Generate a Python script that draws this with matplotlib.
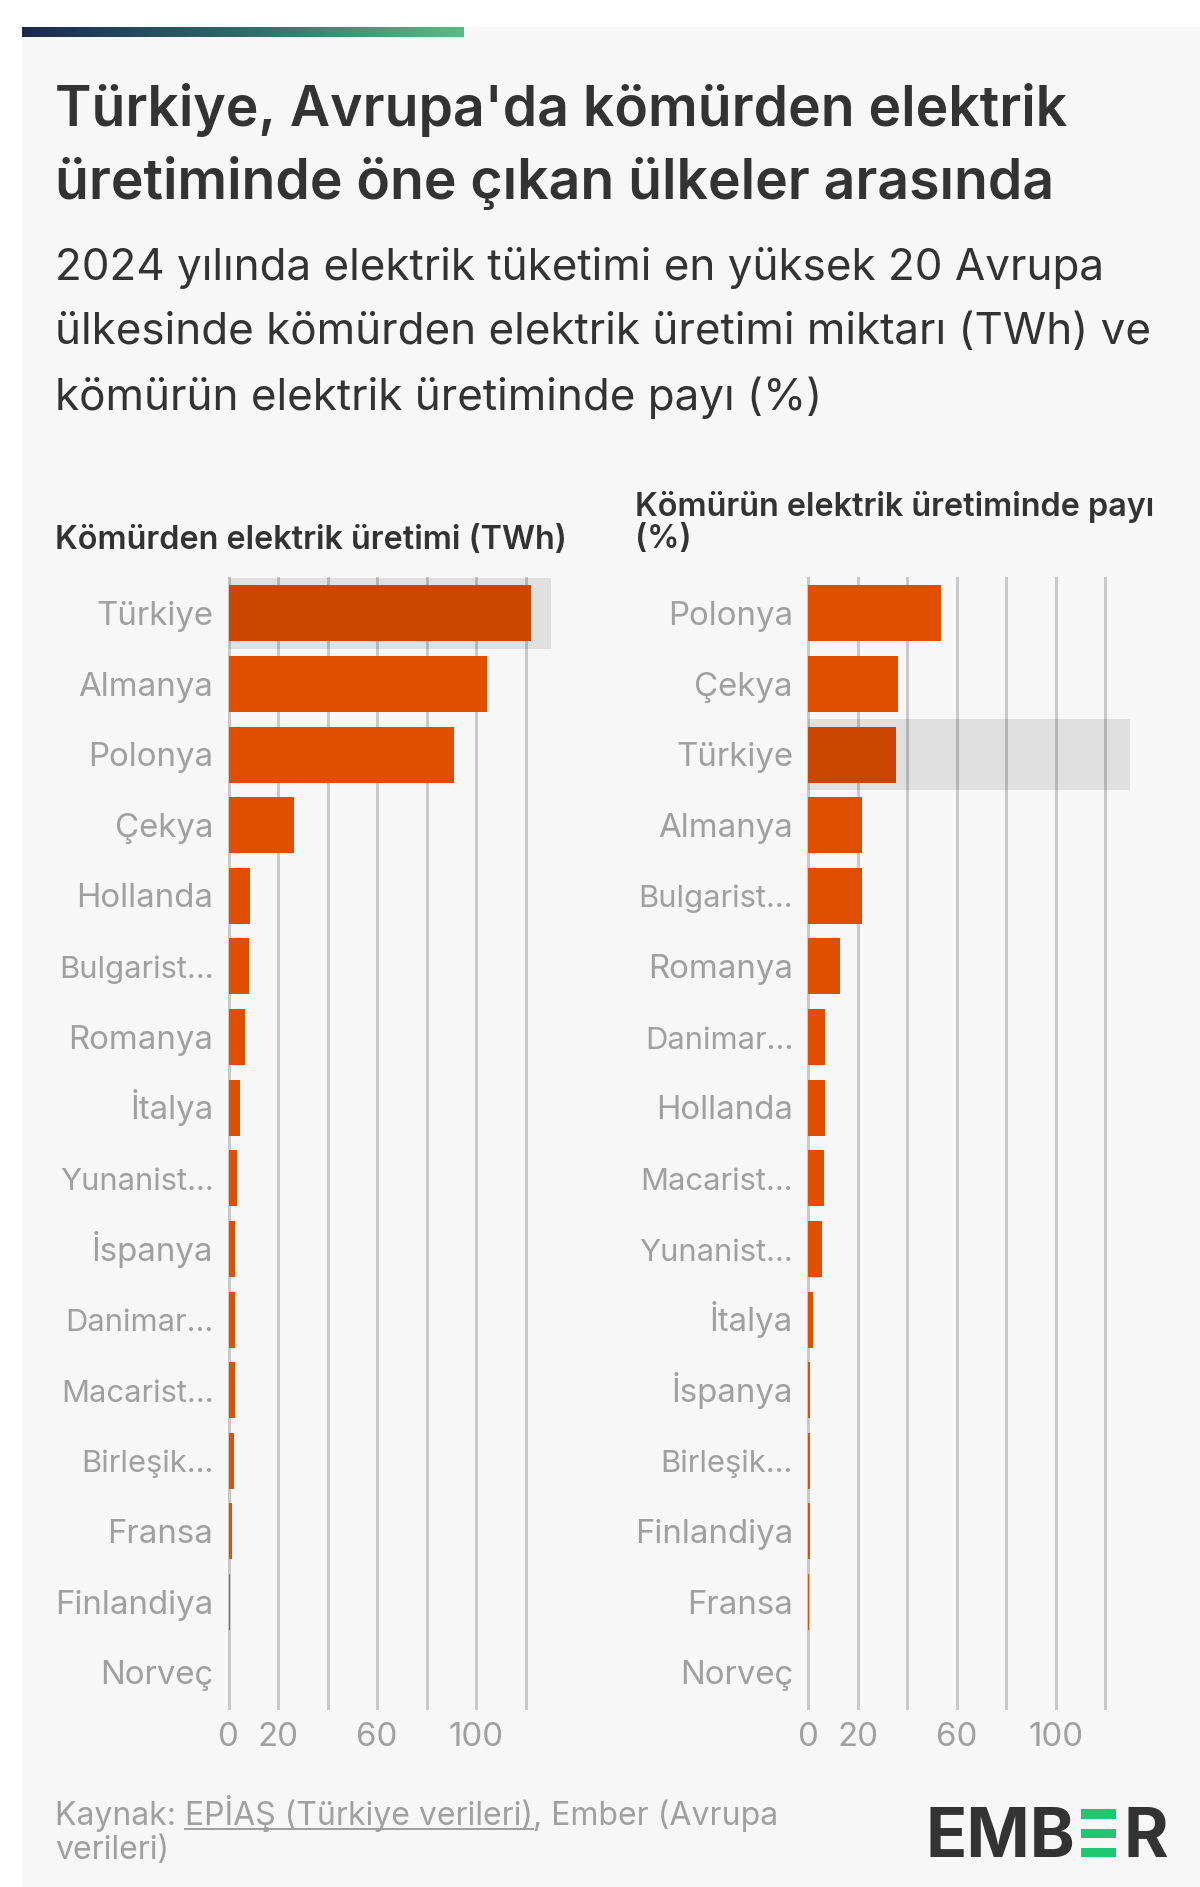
import matplotlib
matplotlib.use("Agg")
import matplotlib.pyplot as plt
import numpy as np
from matplotlib.colors import LinearSegmentedColormap
from matplotlib.patches import Rectangle
from matplotlib.lines import Line2D
from matplotlib.transforms import ScaledTranslation

W, H = 1200, 1887
FONT = "Inter"
plt.rcParams['font.family'] = [FONT, 'DejaVu Sans']

title_lines = ["Türkiye, Avrupa'da kömürden elektrik", "üretiminde öne çıkan ülkeler arasında"]
subtitle_lines = ["2024 yılında elektrik tüketimi en yüksek 20 Avrupa",
                  "ülkesinde kömürden elektrik üretimi miktarı (TWh) ve",
                  "kömürün elektrik üretiminde payı (%)"]
left_title = "Kömürden elektrik üretimi (TWh)"
right_title = ["Kömürün elektrik üretiminde payı", "(%)"]

left_countries = ["Türkiye", "Almanya", "Polonya", "Çekya", "Hollanda", "Bulgarist…", "Romanya", "İtalya",
                  "Yunanist…", "İspanya", "Danimar…", "Macarist…", "Birleşik…", "Fransa", "Finlandiya", "Norveç"]
left_values = [122, 104.5, 91, 26.5, 8.5, 8.2, 6.8, 4.6, 3.3, 2.8, 2.6, 2.5, 2.3, 1.6, 0.7, 0]

right_countries = ["Polonya", "Çekya", "Türkiye", "Almanya", "Bulgarist…", "Romanya", "Danimar…", "Hollanda",
                   "Macarist…", "Yunanist…", "İtalya", "İspanya", "Birleşik…", "Finlandiya", "Fransa", "Norveç"]
right_values = [53.5, 36.5, 35.6, 21.8, 21.6, 13, 7.0, 6.9, 6.3, 5.6, 1.9, 0.9, 0.8, 0.7, 0.4, 0]

tick_values = [0, 20, 40, 60, 80, 100, 120]
tick_labels = ["0", "20", "", "60", "", "100", ""]
highlight = "Türkiye"

BG, ORANGE, GRID, GREY, DARK = "#f7f7f7", "#e04e00", "#c9c9c9", "#a0a0a0", "#333333"

fig = plt.figure(figsize=(W/100, H/100), dpi=100, facecolor="white")

def fx(x): return x / W
def fy(y): return 1 - y / H
def px(p): return p * 72 / 100

fig.add_artist(Rectangle((fx(22), 0), 1 - fx(22), fy(27), transform=fig.transFigure, fc=BG, ec="none", zorder=-5))

cmap = LinearSegmentedColormap.from_list("ember", ["#1b2850", "#2f6a6a", "#5dbb82"])
gax = fig.add_axes([fx(22), fy(37), fx(464 - 22), (37 - 27) / H])
gax.imshow(np.linspace(0, 1, 256).reshape(1, -1), cmap=cmap, aspect="auto")
gax.axis("off")

def txt(x, y, s, size, color=DARK, **kw):
    return fig.text(fx(x), fy(y), s, fontsize=px(size), color=color, va="baseline", **kw)

for y, s in zip([126, 198.5], title_lines):
    txt(55, y, s, 55.3, weight="semibold")
for y, s in zip([280, 344.5, 410], subtitle_lines):
    txt(55, y, s, 44)
txt(55, 549, left_title, 32.4, weight="semibold")
for y, s in zip([516, 548], right_title):
    txt(635, y, s, 32.4, weight="semibold")

def panel(x0, countries, values):
    ax = fig.add_axes([fx(x0), fy(1708), 322 / W, (1708 - 578) / H])
    ax.set_facecolor("none")
    pos = np.arange(len(countries)) + 0.5
    ax.set_axisbelow(True)
    ax.grid(axis="x", color=GRID, lw=px(3))
    ax.barh(pos, values, height=0.793, color=ORANGE, zorder=3)
    i = countries.index(highlight)
    ax.axhspan(i, i + 1, color="black", alpha=0.09, lw=0, zorder=4)
    ax.set_xlim(0, 130)
    ax.set_ylim(len(countries), 0)
    ax.set_xticks(tick_values, tick_labels)
    ax.set_yticks(pos, countries)
    ax.tick_params(axis="both", length=0, labelcolor=GREY, labelsize=px(33))
    ax.tick_params(axis="y", pad=px(15))
    ax.tick_params(axis="x", pad=px(14))
    shift = ScaledTranslation(0, -11.6 / 100, fig.dpi_scale_trans)
    for lab in ax.get_yticklabels():
        lab.set_verticalalignment("baseline")
        lab.set_transform(lab.get_transform() + shift)
        if lab.get_text().endswith("…"):
            lab.set_fontsize(px(31))
    for s in ax.spines.values():
        s.set_visible(False)
    for g in ax.get_xgridlines():
        g.set_clip_on(False)
    return ax

panel(228.5, left_countries, left_values)
panel(808, right_countries, right_values)

# footer
src = [("Kaynak: ", False), ("EPİAŞ (Türkiye verileri)", True), (", Ember (Avrupa", False)]
fig.canvas.draw()
r = fig.canvas.get_renderer()
x = 55
for s, link in src:
    t = txt(x, 1825, s.replace(" ", "\u00a0"), 32, color=GREY)
    bb = t.get_window_extent(r)
    if link:
        fig.add_artist(Line2D([fx(x), fx(bb.x1)], [fy(1829), fy(1829)], color=GREY, lw=px(2), transform=fig.transFigure))
    x = bb.x1
txt(55, 1859, "verileri)", 32, color=GREY)

# logo
txt(925, 1857, "EMB", 68, color=DARK, weight="bold")
txt(1123, 1857, "R", 68, color=DARK, weight="bold")
for y0, y1 in [(1809, 1819), (1829, 1838), (1848, 1857)]:
    fig.add_artist(Rectangle((fx(1081), fy(y1)), fx(1116) - fx(1081), (y1 - y0) / H, transform=fig.transFigure, fc="#20c670", ec="none"))

fig.savefig("out.png", dpi=100)
